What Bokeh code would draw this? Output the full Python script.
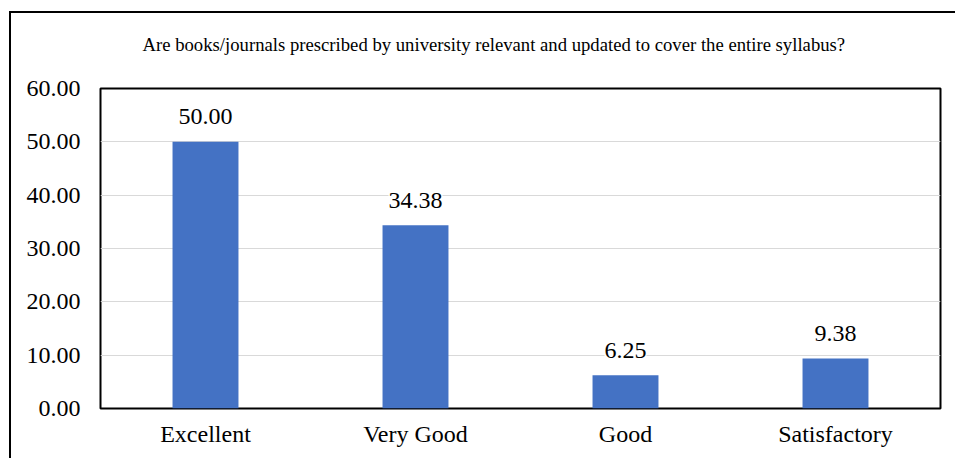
from bokeh.plotting import figure
from bokeh.models import ColumnDataSource, LabelSet, FixedTicker, NumeralTickFormatter, FactorRange, Range1d
from bokeh.core.properties import value
from bokeh.embed import file_html
from bokeh.resources import INLINE

title_text = "Are books/journals prescribed by university relevant and updated to cover the entire syllabus?"
categories = ["Excellent", "Very Good", "Good", "Satisfactory"]
values = [50.00, 34.38, 6.25, 9.38]
label_texts = ["50.00", "34.38", "6.25", "9.38"]
y_ticks = [0, 10, 20, 30, 40, 50, 60]

FONT = "Liberation Serif"

src = ColumnDataSource(dict(cat=categories, val=values, lab=label_texts))

p = figure(width=946, height=447, x_range=FactorRange(*categories), y_range=Range1d(0, 60),
           output_backend="svg", toolbar_location=None,
           min_border_left=89, min_border_right=17, min_border_top=75, min_border_bottom=52)
p.margin = (11, 0, 0, 9)
p.styles = {"border-left": "2px solid black", "border-top": "2px solid black"}

p.vbar(x="cat", top="val", width=0.314, source=src, fill_color="#4472C4", line_color=None)

labels = LabelSet(x="cat", y="val", text="lab", source=src, y_offset=25,
                  text_align="center", text_baseline="middle",
                  text_font=value(FONT), text_font_size=value("24px"), text_color="black",
                  background_fill_color="white", background_fill_alpha=1.0)
p.add_layout(labels)

p.title.text = title_text
p.title.text_font = FONT
p.title.text_font_size = "18.7px"
p.title.text_font_style = "normal"
p.title.text_color = "black"
p.title.align = "left"
p.title.offset = 42
p.title.standoff = 0
p.title.padding = dict(left=0, right=0, top=0, bottom=34)

p.outline_line_color = "black"
p.outline_line_width = 2
p.outline_line_alpha = 1.0

p.xgrid.grid_line_color = None
p.ygrid.grid_line_color = "#d9d9d9"
p.ygrid.grid_line_width = 1
p.yaxis.ticker = FixedTicker(ticks=y_ticks)
p.yaxis.formatter = NumeralTickFormatter(format="0.00")

for ax in (p.xaxis, p.yaxis):
    ax.axis_line_color = None
    ax.major_tick_line_color = None
    ax.minor_tick_line_color = None
    ax.major_label_text_font = FONT
    ax.major_label_text_font_size = "24px"
    ax.major_label_text_color = "black"
p.yaxis.major_label_standoff = 14
p.xaxis.major_label_standoff = 6

open("out.html", "w").write(file_html(p, INLINE))
